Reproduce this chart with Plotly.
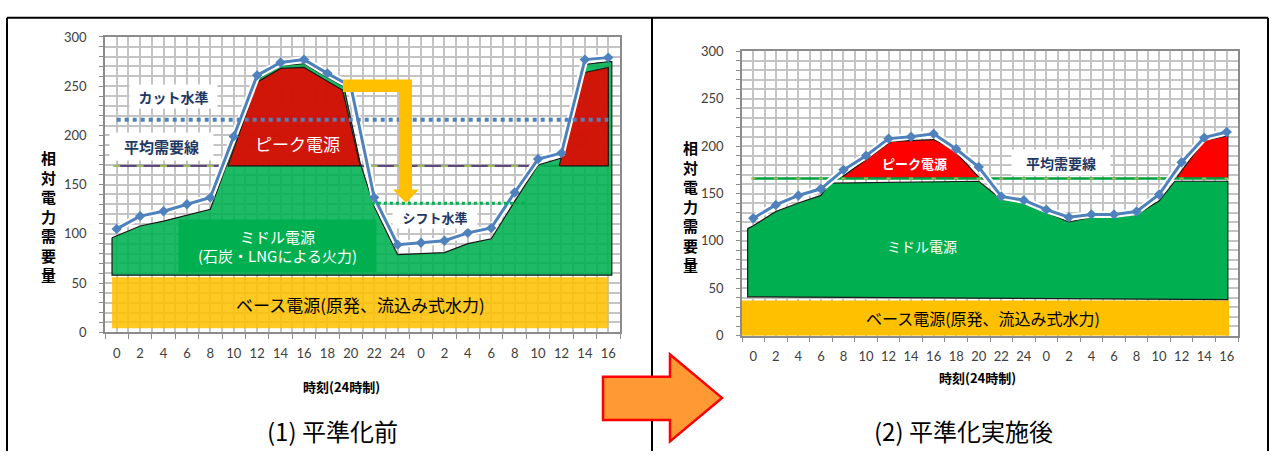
import plotly.graph_objects as go

W, H = 1271, 459

# ---------------- data ----------------
cats = ["0", "2", "4", "6", "8", "10", "12", "14", "16", "18", "20", "22", "24",
        "0", "2", "4", "6", "8", "10", "12", "14", "16"]
y_ticks = [0, 50, 100, 150, 200, 250, 300]

# (1) before levelling
demand_before = [105, 118, 123, 130, 137, 199, 261, 274, 277, 263, 250, 137, 89,
                 91, 93, 101, 106, 142, 176, 182, 277, 279]
mid_before_x = [-0.2, 0, 1, 2, 3, 4, 5, 6, 7, 8, 9, 9.7, 10.4, 11, 12, 13, 14, 15,
                16, 17, 18, 19, 20, 21, 21.15]
mid_before_top = [96, 98, 108, 113, 119, 125, 190, 257, 271, 273, 259, 250, 172, 128,
                  79, 80, 81, 90, 95, 133, 170, 177, 272, 275, 275]
mid_before_bottom = [58, 58]
peak_before1_x = [4.75, 6, 7, 8, 9, 9.65, 10.4]
peak_before1_y = [169, 254, 268, 269, 255, 246, 169]
peak_before2_x = [18.9, 20, 21, 21]
peak_before2_y = [169, 264, 269, 169]
base_before_x = [-0.2, 21.0]
base_before_lo = [4, 4]
base_before_hi = [56, 56]
avg_before = 169
cut_x = [0, 21]
cut_level = 216
shift_x = [10.9, 17.5]
shift_level = 131

# (2) after levelling
demand_after = [124, 138, 148, 155, 175, 190, 208, 210, 213, 197, 178, 147, 143,
                133, 125, 128, 128, 131, 149, 183, 209, 215]
mid_after_x = [-0.25, 0, 1, 2, 3, 3.4, 10, 11, 12, 13, 14, 15, 16, 17, 18, 18.7, 21.05]
mid_after_top = [113, 116, 131, 140, 148, 161, 163, 144, 141, 130, 120, 125, 125,
                 128, 142, 163, 163]
mid_after_bottom = [38, 41]
peak_after1_x = [3.85, 6.1, 8, 8.85, 10.05]
peak_after1_y = [166, 205, 207, 197, 166]
peak_after2_x = [18.75, 20, 21.05, 21.05]
peak_after2_y = [166, 206, 211, 166]
base_after_x = [-0.5, 21.1]
base_after_lo = [0, 0]
base_after_hi = [37, 37]
avg_after = 166

# ---------------- styles ----------------
BLUE = "#4F81BD"
GREEN_A = "rgba(0,176,80,0.88)"
RED_A = "rgba(224,8,0,0.92)"
YEL_A = "rgba(255,192,0,0.86)"
GRID = "#C4C4C4"
AXC = "#8C8C8C"
NAVY = "#1F3864"
JP = "Noto Sans CJK JP"
NUM = "Lato"

idx = list(range(len(cats)))

fig = go.Figure()


def avg_trace(xa, ya, avg, color, msize, lw):
    fig.add_trace(go.Scatter(x=idx, y=[avg] * len(idx), mode="lines+markers",
                             line=dict(color=color, width=lw),
                             marker=dict(symbol="line-ew", size=msize,
                                         line=dict(color="#9BBB59", width=2)),
                             showlegend=False, xaxis=xa, yaxis=ya))


def add_panel(xa, ya, demand, mx, mtop, mbot, peaks, bx, blo, bhi, avg, green, red,
              yel, avg_color, avg_on_top):
    # base band
    fig.add_trace(go.Scatter(x=bx, y=blo, mode="lines", line=dict(width=0),
                             hoverinfo="skip", showlegend=False, xaxis=xa, yaxis=ya))
    fig.add_trace(go.Scatter(x=bx, y=bhi, mode="lines", line=dict(width=0),
                             fill="tonexty", fillcolor=yel, hoverinfo="skip",
                             showlegend=False, xaxis=xa, yaxis=ya))
    if not avg_on_top:
        avg_trace(xa, ya, avg, avg_color, 5, 2.2)
    # middle power (polygon)
    px_ = list(mx) + [mx[-1], mx[0], mx[0]]
    py_ = list(mtop) + [mbot[0], mbot[1], mtop[0]]
    fig.add_trace(go.Scatter(x=px_, y=py_, mode="lines", fill="toself",
                             fillcolor=green, line=dict(color="#1a1a1a", width=1.2),
                             showlegend=False, xaxis=xa, yaxis=ya))
    for (kx, ky) in peaks:
        fig.add_trace(go.Scatter(x=list(kx) + [kx[0]], y=list(ky) + [ky[0]],
                                 mode="lines", fill="toself", fillcolor=red,
                                 line=dict(color="#1a1a1a", width=1.2),
                                 showlegend=False, xaxis=xa, yaxis=ya))
    if avg_on_top:
        avg_trace(xa, ya, avg, avg_color, 3, 2.5)
    # demand line with white halo
    fig.add_trace(go.Scatter(x=idx, y=demand, mode="lines",
                             line=dict(color="white", width=7),
                             showlegend=False, xaxis=xa, yaxis=ya))
    fig.add_trace(go.Scatter(x=idx, y=demand, mode="lines+markers",
                             line=dict(color=BLUE, width=3),
                             marker=dict(symbol="diamond", size=8, color=BLUE),
                             showlegend=False, xaxis=xa, yaxis=ya))


add_panel("x", "y", demand_before, mid_before_x, mid_before_top, mid_before_bottom,
          [(peak_before1_x, peak_before1_y), (peak_before2_x, peak_before2_y)],
          base_before_x, base_before_lo, base_before_hi, avg_before,
          GREEN_A, RED_A, YEL_A, "#604A7B", False)

# cut level and shift level
fig.add_trace(go.Scatter(x=cut_x, y=[cut_level] * len(cut_x), mode="lines",
                         line=dict(color=BLUE, width=4, dash="dot"),
                         showlegend=False, xaxis="x", yaxis="y"))
fig.add_trace(go.Scatter(x=shift_x, y=[shift_level] * len(shift_x), mode="lines",
                         line=dict(color="#00B050", width=3, dash="dot"),
                         showlegend=False, xaxis="x", yaxis="y"))

add_panel("x2", "y2", demand_after, mid_after_x, mid_after_top, mid_after_bottom,
          [(peak_after1_x, peak_after1_y), (peak_after2_x, peak_after2_y)],
          base_after_x, base_after_lo, base_after_hi, avg_after,
          "#00B050", "#FF0000", "#FFC000", "#00A040", True)


def xaxis_cfg(dom):
    return dict(domain=dom, range=[-0.5, len(cats) - 0.5], tickmode="array",
                tickvals=idx, ticktext=cats, showgrid=True, gridcolor=GRID,
                gridwidth=1.5, ticks="", showline=True, linecolor=AXC, linewidth=1.5,
                mirror=True, zeroline=False, fixedrange=True,
                tickfont=dict(family=NUM, size=13, color="#404040"),
                ticklabelstandoff=8,
                minor=dict(tickmode="array",
                           tickvals=[i - 0.5 for i in range(len(cats) + 1)],
                           showgrid=True, gridcolor=GRID, gridwidth=1.5,
                           ticks="outside", ticklen=5, tickcolor=AXC))


def yaxis_cfg(dom, anchor):
    return dict(domain=dom, range=[0, 300], tickmode="array", tickvals=y_ticks,
                showgrid=True, gridcolor=GRID, gridwidth=1.5, ticks="outside",
                ticklen=4, tickcolor=AXC, showline=True, linecolor=AXC,
                linewidth=1.5, mirror=True, zeroline=False, anchor=anchor,
                tickfont=dict(family=NUM, size=13, color="#404040"),
                ticklabelstandoff=10,
                minor=dict(dtick=10, tick0=0, showgrid=True, gridcolor=GRID,
                           gridwidth=1.5, ticks="outside", ticklen=4, tickcolor=AXC))


def PX(x):
    return x / W


def PY(y):
    return 1 - y / H


fig.update_layout(
    width=W, height=H, margin=dict(l=0, r=0, t=0, b=0),
    paper_bgcolor="white", plot_bgcolor="white", showlegend=False,
    xaxis=dict(xaxis_cfg([PX(105), PX(620)]), anchor="y"),
    yaxis=yaxis_cfg([PY(336), PY(30)], "x"),
    xaxis2=dict(xaxis_cfg([PX(742), PX(1238)]), anchor="y2"),
    yaxis2=yaxis_cfg([PY(339.5), PY(45)], "x2"),
)

shapes = []
# panel frames
for (x0, y0, x1, y1) in [(7, 10, 1268, 10), (7, 10, 7, 459), (652, 10, 652, 459),
                         (1268, 10, 1268, 459)]:
    shapes.append(dict(type="line", xref="paper", yref="paper", x0=PX(x0), y0=PY(y0),
                       x1=PX(x1), y1=PY(y1), line=dict(color="black", width=2)))


def path(pts):
    return "M " + " L ".join(f"{PX(a):.5f},{PY(b):.5f}" for a, b in pts) + " Z"


# L-shaped shift arrow in chart (1)
shapes.append(dict(type="path", xref="paper", yref="paper",
                   path=path([(343, 74), (412, 74), (412, 188), (419, 188), (406, 202),
                              (393, 188), (399, 188), (399, 87), (343, 87)]),
                   fillcolor="#FFC000", line=dict(width=0)))
# big orange arrow between panels
shapes.append(dict(type="path", xref="paper", yref="paper",
                   path=path([(603, 382), (670, 382), (670, 359), (722, 404),
                              (670, 449), (670, 427), (603, 427)]),
                   fillcolor="#FF9933", line=dict(color="#FF0000", width=2.5)))
fig.update_layout(shapes=shapes)

anns = []


def ann(text, x, y, size, color="black", weight="normal", bg=None, w=None, h=None,
        family=JP):
    d = dict(text=text, xref="paper", yref="paper", x=PX(x), y=PY(y),
             xanchor="center", yanchor="middle", showarrow=False,
             font=dict(family=family, size=size, color=color, weight=weight),
             borderpad=0)
    if bg:
        d["bgcolor"] = bg
    if w:
        d["width"] = w
    if h:
        d["height"] = h
    anns.append(d)


# chart (1) labels
ann("カット水準", 173, 92, 14, NAVY, "bold", "white", 87, 23)
ann("平均需要線", 161, 144, 15, NAVY, "bold", "white", 103, 27)
ann("シフト水準", 435, 217, 13, NAVY, "bold", "white", 84, 22)
ann("ピーク電源", 297, 140, 17, "white")
ann("ミドル電源<br>(石炭・LNGによる火力)", 277, 247, 15, "white", "normal",
    "#00B050", 197, 52)
ann("ベース電源(原発、流込み式水力)", 360, 307, 17, "black")
ann("相<br>対<br>電<br>力<br>需<br>要<br>量", 48, 216, 15, "black", "bold")
ann("時刻(24時制)", 341, 392, 13, "black", "bold")
ann("(1) 平準化前", 332, 438, 24, "black")

# chart (2) labels
ann("ピーク電源", 915, 161, 13, "white", "bold")
ann("平均需要線", 1061, 160, 14, NAVY, "bold", "white", 98, 25)
ann("ミドル電源", 922, 247, 14, "white")
ann("ベース電源(原発、流込み式水力)", 983, 321, 16, "black")
ann("相<br>対<br>電<br>力<br>需<br>要<br>量", 690, 205, 15, "black", "bold")
ann("時刻(24時制)", 977, 383, 13, "black", "bold")
ann("(2) 平準化実施後", 963, 438, 24, "black")

fig.update_layout(annotations=anns)

fig.write_html("out.html")
